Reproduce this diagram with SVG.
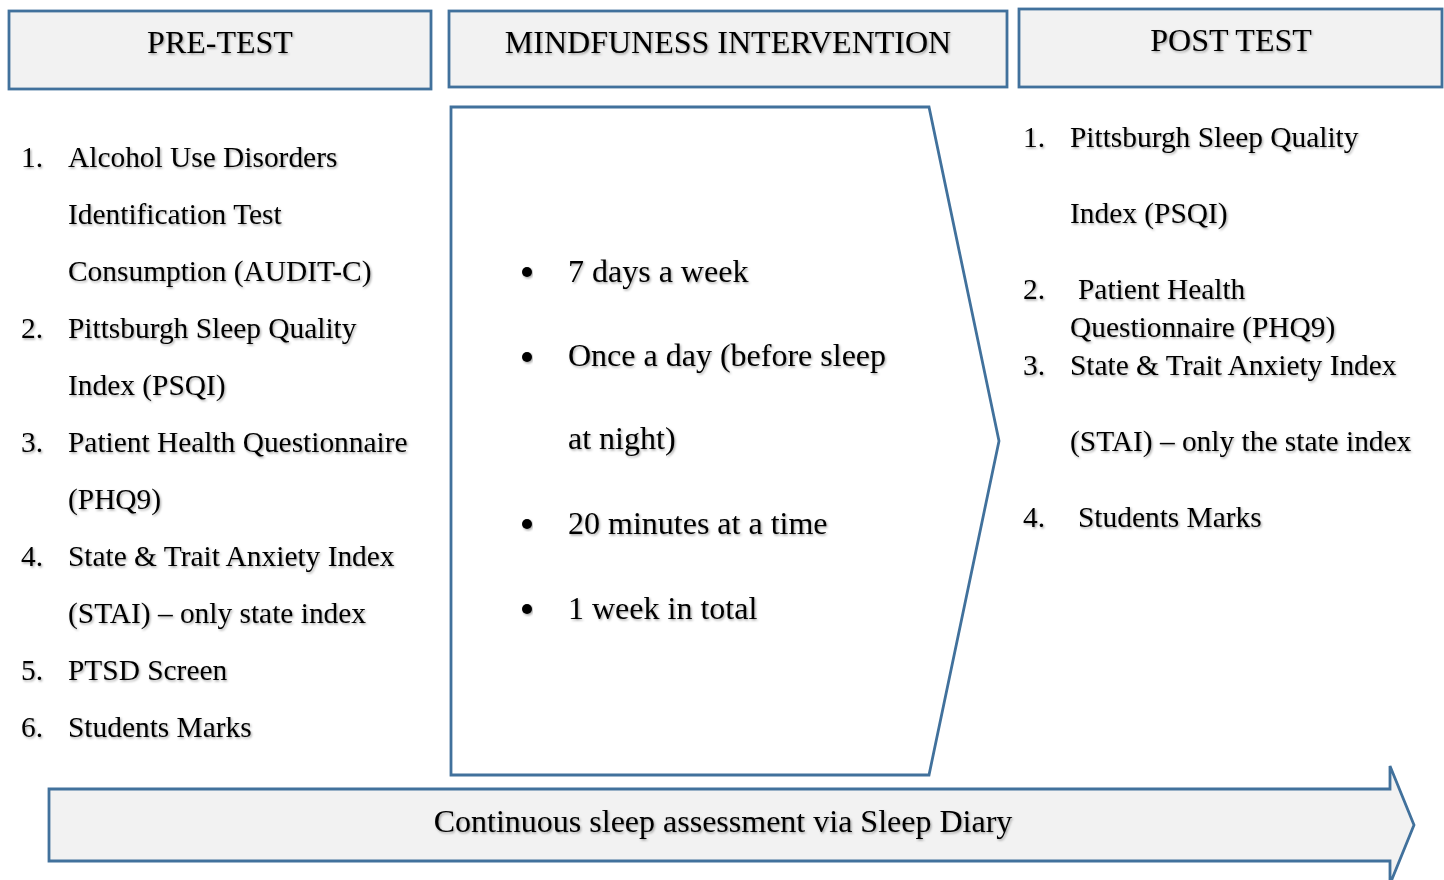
<svg xmlns="http://www.w3.org/2000/svg" width="1444" height="880" viewBox="0 0 1444 880">
<defs>
<style>
.box{fill:#f2f2f2;stroke:#41719c;stroke-width:2.8}
.chev{fill:#ffffff;stroke:#41719c;stroke-width:2.8}
text{font-family:"Liberation Serif","Times New Roman",serif;fill:#000;filter:url(#sh)}
.h{font-size:32px;text-anchor:middle}
.b{font-size:29.4px}
.m{font-size:32px}
.dot{fill:#000;filter:url(#sh)}
</style>
<filter id="sh" x="-5%" y="-30%" width="110%" height="160%">
<feDropShadow dx="1.2" dy="1.5" stdDeviation="1" flood-color="#000" flood-opacity="0.35"/>
</filter>
</defs>
<rect width="1444" height="880" fill="#ffffff"/>

<g id="pre-test-header">
<rect class="box" x="9" y="11" width="422" height="78"/>
<text class="h" x="220" y="53">PRE-TEST</text>
</g>
<g id="intervention-header">
<rect class="box" x="449" y="11" width="558" height="76"/>
<text class="h" x="728" y="53">MINDFUNESS INTERVENTION</text>
</g>
<g id="post-test-header">
<rect class="box" x="1019" y="9" width="423" height="78"/>
<text class="h" x="1231" y="51">POST TEST</text>
</g>

<g id="pre-test-list">
<text class="b" x="21" y="167">1.</text>
<text class="b" x="68" y="167">Alcohol Use Disorders</text>
<text class="b" x="68" y="224">Identification Test</text>
<text class="b" x="68" y="281">Consumption (AUDIT-C)</text>
<text class="b" x="21" y="338">2.</text>
<text class="b" x="68" y="338">Pittsburgh Sleep Quality</text>
<text class="b" x="68" y="395">Index (PSQI)</text>
<text class="b" x="21" y="452">3.</text>
<text class="b" x="68" y="452">Patient Health Questionnaire</text>
<text class="b" x="68" y="509">(PHQ9)</text>
<text class="b" x="21" y="566">4.</text>
<text class="b" x="68" y="566">State &amp; Trait Anxiety Index</text>
<text class="b" x="68" y="623">(STAI) – only state index</text>
<text class="b" x="21" y="680">5.</text>
<text class="b" x="68" y="680">PTSD Screen</text>
<text class="b" x="21" y="737">6.</text>
<text class="b" x="68" y="737">Students Marks</text>
</g>

<g id="intervention-details">
<polygon class="chev" points="451,107 929,107 999,441 929,775 451,775"/>
<circle class="dot" cx="527" cy="272" r="5"/>
<text class="m" x="568" y="282">7 days a week</text>
<circle class="dot" cx="527" cy="357" r="5"/>
<text class="m" x="568" y="366">Once a day (before sleep</text>
<text class="m" x="568" y="449">at night)</text>
<circle class="dot" cx="527" cy="524" r="5"/>
<text class="m" x="568" y="534">20 minutes at a time</text>
<circle class="dot" cx="527" cy="609" r="5"/>
<text class="m" x="568" y="619">1 week in total</text>
</g>

<g id="post-test-list">
<text class="b" x="1023" y="147">1.</text>
<text class="b" x="1070" y="147">Pittsburgh Sleep Quality</text>
<text class="b" x="1070" y="223">Index (PSQI)</text>
<text class="b" x="1023" y="299">2.</text>
<text class="b" x="1078" y="299">Patient Health</text>
<text class="b" x="1070" y="337">Questionnaire (PHQ9)</text>
<text class="b" x="1023" y="375">3.</text>
<text class="b" x="1070" y="375">State &amp; Trait Anxiety Index</text>
<text class="b" x="1070" y="451">(STAI) – only the state index</text>
<text class="b" x="1023" y="527">4.</text>
<text class="b" x="1078" y="527">Students Marks</text>
</g>

<g id="sleep-diary-arrow">
<polygon class="box" points="49,789 1390,789 1390,766 1414,825 1390,884 1390,861 49,861"/>
<text class="h" x="723" y="832">Continuous sleep assessment via Sleep Diary</text>
</g>
</svg>
